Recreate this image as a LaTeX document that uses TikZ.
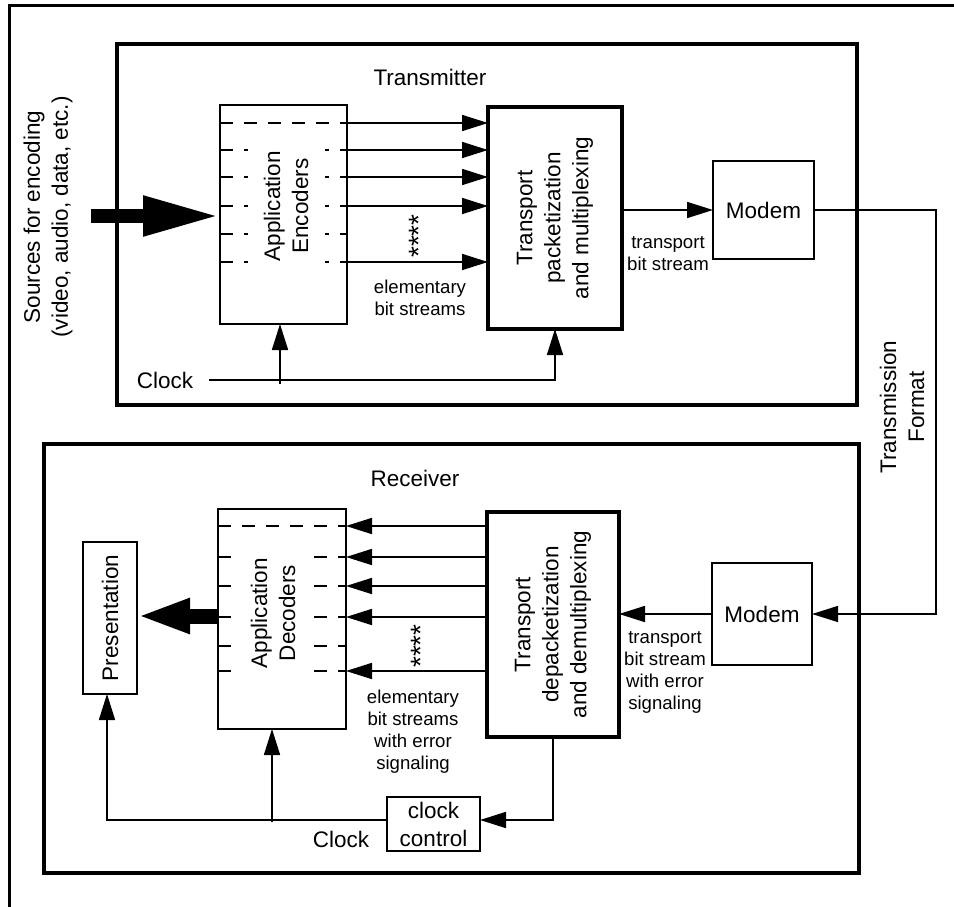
\documentclass[tikz,border=0pt]{standalone}
\usepackage{fontspec}
\setmainfont{Liberation Sans}
\usetikzlibrary{arrows.meta}
\begin{document}
\begin{tikzpicture}[x=1pt,y=-1pt,
 every node/.style={inner sep=0pt,outer sep=0pt},
 thinbox/.style={draw,line width=1.6pt},
 thickbox/.style={draw,line width=3.5pt},
 frame/.style={draw,line width=4pt},
 arr/.style={line width=1.7pt,-{Triangle[length=26pt,width=16pt]}},
 ln/.style={line width=1.6pt},
 dashln/.style={line width=1.2pt,dash pattern=on 13pt off 11pt},
 big/.style={font=\fontsize{22.5}{28}\selectfont,align=center},
 small/.style={font=\fontsize{18.6}{22}\selectfont,align=center},
 stars/.style={font=\fontsize{28}{28}\selectfont,rotate=90},
 cover/.style={fill=white}]
\useasboundingbox (0,0) rectangle (954,907);
\draw[line width=3pt] (9,907) -- (9,6) -- (954,6);

% frames
\node[frame,minimum width=740pt,minimum height=361pt] (tx) at (487,224.5) {};
\node[frame,minimum width=815pt,minimum height=429pt] (rx) at (451.5,658.5) {};
\node[big] (txt) at (430,77) {Transmitter};
\node[big] (rxt) at (415,478) {Receiver};

% ---------- transmitter ----------
\node[thinbox,minimum width=127pt,minimum height=219pt] (enc) at (283.5,214.5) {};
\foreach \y in {123,150,177,206,234,262}
  \draw[dashln] (enc.west |- 0,\y) -- (enc.east |- 0,\y);
\node[big,cover,rotate=90,minimum width=120pt,minimum height=77pt] (encl) at (286,206) {Application\\Encoders};

\node[thickbox,minimum width=134pt,minimum height=222pt] (tpk) at (555,218) {};
\node[big,rotate=90] (tpkl) at (tpk.center) {Transport\\packetization\\and multiplexing};

\foreach \y in {123,150,177,206,262}
  \draw[arr] (enc.east |- 0,\y) -- (tpk.west |- 0,\y);
\node[stars] (st1) at (419,236) {****};
\node[small] (ebs) at (420,298) {elementary\\bit streams};

\node[thinbox,big,minimum width=101pt,minimum height=98pt] (modT) at (763.5,210) {Modem};
\draw[arr] (tpk.east |- modT) -- (modT.west);
\node[small] (tbs) at (668,254) {transport\\bit stream};

\node[big,rotate=90] (src) at (48,217) {Sources for encoding\\(video, audio, data, etc.)};
\coordinate (srcA) at (91,216);
\draw[line width=14pt,-{Triangle[length=77pt,width=37pt]}] (srcA) -- (enc.west |- srcA);

\node[big] (clkT) at (165,380) {Clock};
\coordinate (ckTs) at (209,380);
\coordinate (ckTb) at (280,384);
\draw[arr] (ckTs) -| (tpk.south);
\draw[arr] (ckTb) -- (ckTb |- enc.south);

% ---------- receiver ----------
\node[thinbox,minimum width=128pt,minimum height=220pt] (dec) at (282,619) {};
\foreach \y in {526,557,586,617,646,671}
  \draw[dashln] (dec.west |- 0,\y) -- (dec.east |- 0,\y);
\node[big,cover,rotate=90,minimum width=126pt,minimum height=80pt] (decl) at (273,613) {Application\\Decoders};

\node[thickbox,minimum width=132pt,minimum height=225pt] (tdp) at (553,624.5) {};
\node[big,rotate=90] (tdpl) at (tdp.center) {Transport\\depacketization\\and demultiplexing};

\foreach \y in {526,557,586,617,671}
  \draw[arr] (tdp.west |- 0,\y) -- (dec.east |- 0,\y);
\node[stars] (st2) at (421,646) {****};
\node[small] (ebs2) at (413,732) {elementary\\bit streams\\with error\\signaling};

\node[thinbox,big,minimum width=100pt,minimum height=102pt] (modR) at (762,614) {Modem};
\draw[arr] (modR.west) -- (tdp.east |- modR);
\node[small] (tbs2) at (665,672) {transport\\bit stream\\with error\\signaling};

% transmission
\coordinate (tr1) at (936,400);
\draw[arr,line width=1.3pt] (modT.east) -| (tr1) |- (modR.east);
\node[big,rotate=90] (tf) at (902,407) {Transmission\\Format};

\node[thinbox,minimum width=54pt,minimum height=152pt] (pres) at (110,618) {};
\node[big,rotate=90] (presl) at (pres.center) {Presentation};
\coordinate (outA) at (0,616);
\draw[line width=15pt,-{Triangle[length=53pt,width=32pt]}] (dec.west |- outA) -- (pres.east |- outA);

\node[thinbox,big,minimum width=93pt,minimum height=54pt] (cc) at (433.5,824) {clock\\control};
\coordinate (rc) at (553,820);
\coordinate (pl) at (107,820);
\coordinate (dk) at (272,822);
\draw[arr] (tdp.south) |- (cc.east |- rc);
\draw[arr] (cc.west |- rc) -| (pres.south -| pl);
\draw[arr] (dk) -- (dk |- dec.south);
\node[big] (clkR) at (341,839) {Clock};
\end{tikzpicture}
\end{document}
